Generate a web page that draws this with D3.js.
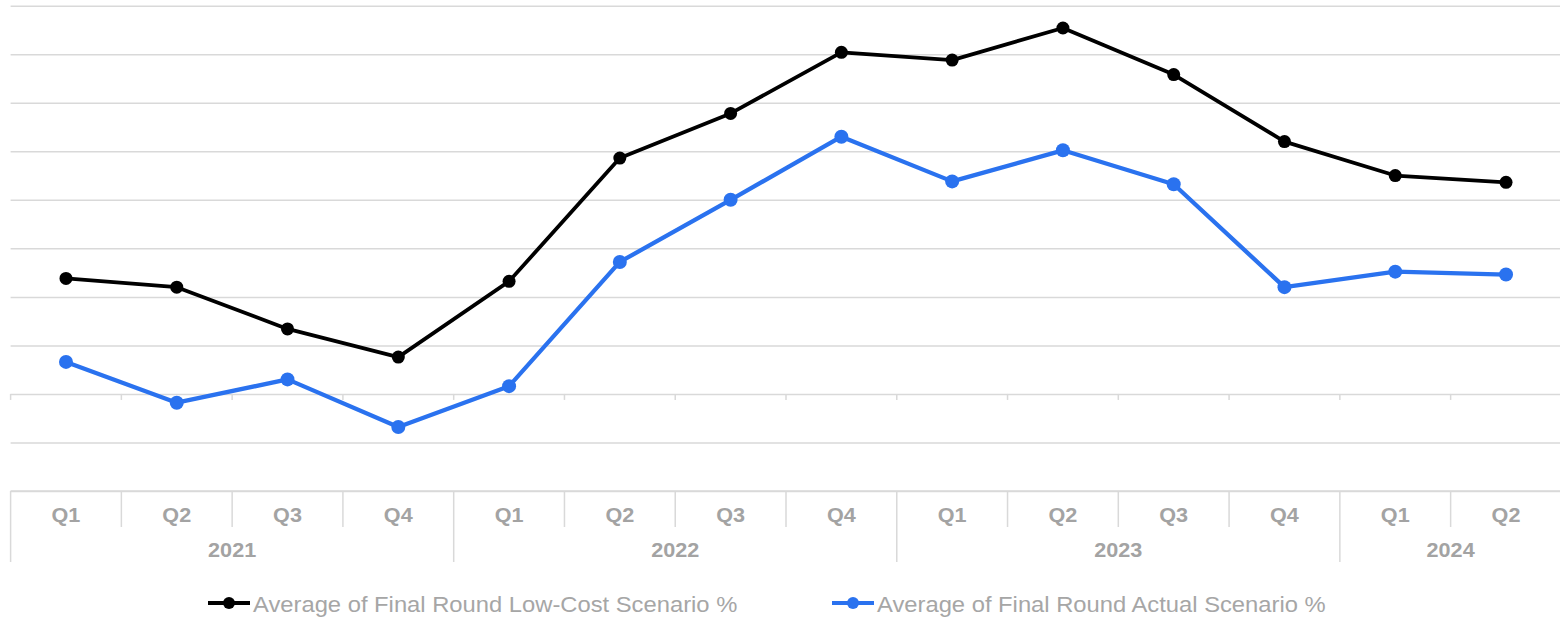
<!DOCTYPE html>
<html>
<head>
<meta charset="utf-8">
<script src="https://cdn.jsdelivr.net/npm/d3@7/dist/d3.min.js"></script>
<style>
  html, body { margin: 0; padding: 0; background: #fff; }
  svg { display: block; }
  text { font-family: "Liberation Sans", Arial, sans-serif; }
</style>
</head>
<body>
<svg id="chart" width="1560" height="617"></svg>
<script>
// Quarterly averages, 2021 Q1 – 2024 Q2
const years = ["2021", "2022", "2023", "2024"];
const quarters = ["Q1", "Q2", "Q3", "Q4", "Q1", "Q2", "Q3", "Q4", "Q1", "Q2", "Q3", "Q4", "Q1", "Q2"];
const quarterYears = ["2021", "2021", "2021", "2021", "2022", "2022", "2022", "2022", "2023", "2023", "2023", "2023", "2024", "2024"];
const lowCost = [11.9, 11.0, 6.7, 3.8, 11.6, 24.3, 28.9, 35.2, 34.4, 37.7, 32.9, 26.0, 22.5, 21.8];
const actual = [3.3, -0.9, 1.5, -3.4, 0.8, 13.6, 20.0, 26.5, 21.9, 25.1, 21.6, 11.0, 12.6, 12.3];
const yTicks = [-10, -5, 0, 5, 10, 15, 20, 25, 30, 35, 40];

const seriesList = [
  { name: "Average of Final Round Low-Cost Scenario %", values: lowCost, color: "#000000", width: 3.8, r: 6.5 },
  { name: "Average of Final Round Actual Scenario %", values: actual, color: "#2a72ef", width: 4.3, r: 7 }
];

const svg = d3.select("#chart");
const plotLeft = 10.6, plotRight = 1561.4, plotTop = 5.7, plotBottom = 491;
const textStretch = 1.08;

const keys = quarters.map((q, i) => quarterYears[i] + "-" + q);
const x = d3.scaleBand().domain(keys).range([plotLeft, plotRight]).paddingInner(0).paddingOuter(0);
const y = d3.scaleLinear().domain([-10, 40]).range([plotBottom, plotTop]);

// widen glyphs slightly to the chart's text proportions
function stretch(sel) {
  sel.each(function () {
    const len = this.getComputedTextLength();
    d3.select(this).attr("textLength", len * textStretch).attr("lengthAdjust", "spacingAndGlyphs");
  });
}

// horizontal gridlines
const grid = svg.append("g")
  .attr("transform", `translate(${plotLeft},0)`)
  .call(d3.axisLeft(y).tickValues(yTicks).tickSize(-(plotRight - plotLeft)).tickFormat(""));
grid.select(".domain").remove();
grid.selectAll(".tick line").attr("stroke", "#d9d9d9").attr("stroke-width", 1.5);

// small ticks under the zero line at each quarter boundary
const boundaries = keys.map(k => x(k));
svg.append("g").selectAll("line").data(boundaries).join("line")
  .attr("x1", d => d).attr("x2", d => d)
  .attr("y1", y(0)).attr("y2", y(0) + 6)
  .attr("stroke", "#d9d9d9").attr("stroke-width", 1.5);

// category axis: quarter row and year row
const axis = svg.append("g");
axis.append("line")
  .attr("x1", plotLeft).attr("x2", plotRight).attr("y1", plotBottom).attr("y2", plotBottom)
  .attr("stroke", "#d9d9d9").attr("stroke-width", 1.5);

keys.forEach((k, i) => {
  const isYearStart = i === 0 || quarterYears[i] !== quarterYears[i - 1];
  axis.append("line")
    .attr("x1", x(k)).attr("x2", x(k))
    .attr("y1", plotBottom).attr("y2", isYearStart ? 562 : 527)
    .attr("stroke", "#d9d9d9").attr("stroke-width", 1.5);
});

axis.selectAll("text.q").data(keys).join("text")
  .attr("class", "q")
  .attr("x", d => x(d) + x.bandwidth() / 2)
  .attr("y", 522)
  .attr("text-anchor", "middle")
  .attr("font-size", 20)
  .attr("font-weight", "bold")
  .attr("fill", "#a3a3a3")
  .text((d, i) => quarters[i])
  .call(stretch);

years.forEach(yr => {
  const ks = keys.filter((k, i) => quarterYears[i] === yr);
  const x0 = x(ks[0]);
  const x1 = x(ks[ks.length - 1]) + x.bandwidth();
  axis.append("text")
    .attr("x", (x0 + x1) / 2)
    .attr("y", 557)
    .attr("text-anchor", "middle")
    .attr("font-size", 20)
    .attr("font-weight", "bold")
    .attr("fill", "#a3a3a3")
    .text(yr)
    .call(stretch);
});

// series lines and markers
const line = d3.line()
  .x((d, i) => x(keys[i]) + x.bandwidth() / 2)
  .y(d => y(d));

seriesList.forEach(s => {
  svg.append("path")
    .datum(s.values)
    .attr("d", line)
    .attr("fill", "none")
    .attr("stroke", s.color)
    .attr("stroke-width", s.width)
    .attr("stroke-linejoin", "round");
  svg.append("g").selectAll("circle").data(s.values).join("circle")
    .attr("cx", (d, i) => x(keys[i]) + x.bandwidth() / 2)
    .attr("cy", d => y(d))
    .attr("r", s.r)
    .attr("fill", s.color);
});

// legend
const legendX = [208, 832];
const legend = svg.append("g");
seriesList.forEach((s, i) => {
  const g = legend.append("g").attr("transform", `translate(${legendX[i]},603)`);
  g.append("line").attr("x1", 0).attr("x2", 42).attr("y1", 0).attr("y2", 0)
    .attr("stroke", s.color).attr("stroke-width", 4);
  g.append("circle").attr("cx", 21).attr("cy", 0).attr("r", 6).attr("fill", s.color);
  g.append("text").attr("x", 45).attr("y", 8.5)
    .attr("font-size", 22).attr("fill", "#a6a6a6")
    .text(s.name)
    .call(stretch);
});
</script>
</body>
</html>
